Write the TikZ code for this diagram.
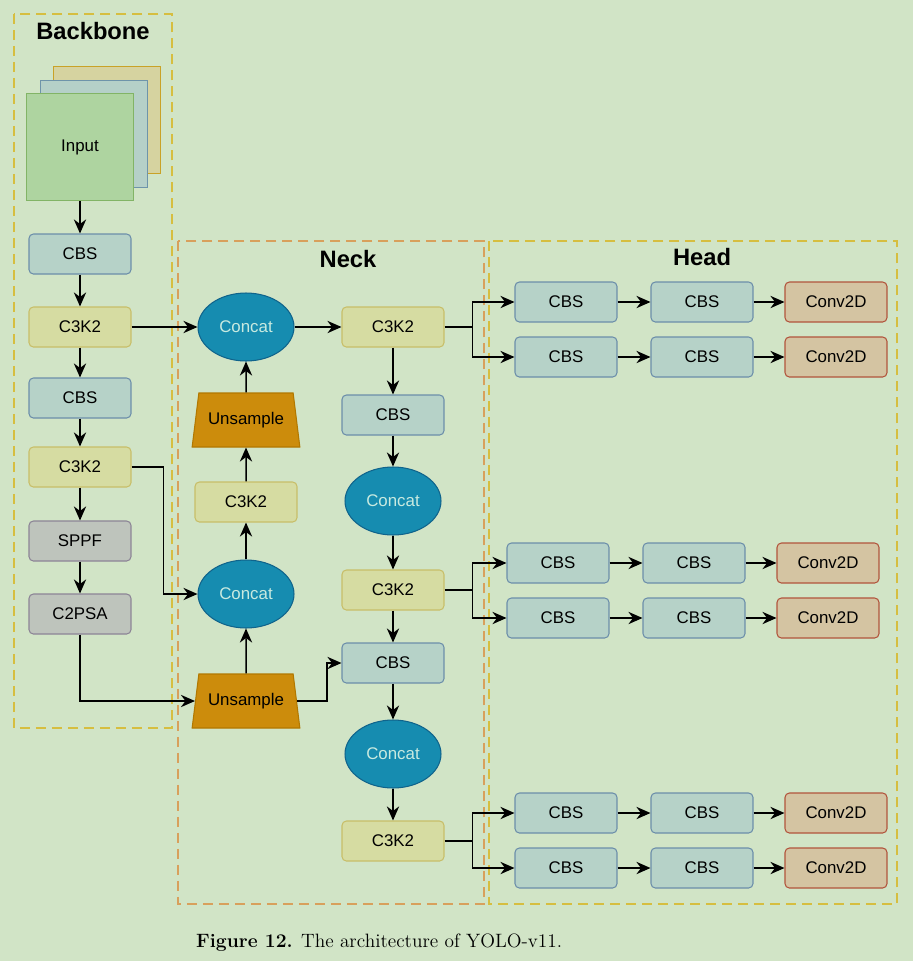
\documentclass[tikz,border=0pt]{standalone}
\usepackage{fontspec}
\setsansfont{Liberation Sans}
\usetikzlibrary{
  arrows.meta,
  shapes.geometric
}
\definecolor{bgpaper}{RGB}{209,228,198}
\definecolor{bbline}{RGB}{214,190,64}
\definecolor{neckline}{RGB}{216,160,92}
\definecolor{cbsfill}{RGB}{182,210,200}
\definecolor{cbsline}{RGB}{108,142,170}
\definecolor{c3fill}{RGB}{214,220,162}
\definecolor{c3line}{RGB}{200,190,104}
\definecolor{poolfill}{RGB}{190,196,188}
\definecolor{poolline}{RGB}{140,132,150}
\definecolor{convfill}{RGB}{212,196,162}
\definecolor{convline}{RGB}{178,84,60}
\definecolor{catfill}{RGB}{22,140,176}
\definecolor{catline}{RGB}{16,100,140}
\definecolor{cattext}{RGB}{200,234,224}
\definecolor{upfill}{RGB}{204,140,12}
\definecolor{upline}{RGB}{178,120,0}
\definecolor{infront}{RGB}{174,212,160}
\definecolor{infrontline}{RGB}{130,180,102}
\definecolor{inmid}{RGB}{181,208,200}
\definecolor{inmidline}{RGB}{110,148,170}
\definecolor{inback}{RGB}{214,211,160}
\definecolor{inbackline}{RGB}{201,162,39}

\begin{document}
\begin{tikzpicture}[
  x=0.02cm, y=-0.02cm,
  every node/.style={font=\sffamily\fontsize{9.6}{11}\selectfont},
  blockbox/.style={rounded corners=2.5pt, minimum width=2.04cm,
                minimum height=0.8cm, inner sep=0pt, line width=0.6pt},
  cbsbox/.style={blockbox, draw=cbsline, fill=cbsfill},
  c3box/.style={blockbox, draw=c3line, fill=c3fill},
  poolbox/.style={blockbox, draw=poolline, fill=poolfill},
  convbox/.style={blockbox, draw=convline, fill=convfill},
  concatnode/.style={ellipse, draw=catline, fill=catfill, text=cattext,
                minimum width=1.92cm, minimum height=1.36cm, inner sep=0pt, line width=0.6pt},
  upnode/.style={trapezium, trapezium stretches=true, trapezium left angle=71,
                trapezium right angle=71, minimum width=2.16cm, minimum height=1.08cm,
                draw=upline, fill=upfill, inner sep=0pt, line width=0.6pt},
  inputsheet/.style={minimum width=2.14cm, minimum height=2.14cm, inner sep=0pt, line width=0.7pt},
  groupbox/.style={dash pattern=on 0.2cm off 0.12cm, line width=1.2pt},
  titletext/.style={font=\sffamily\bfseries\fontsize{13.5}{15}\selectfont},
  link/.style={->, line width=0.85pt},
  >={Stealth[length=8pt, width=7pt]}
]

\fill[bgpaper] (0,0) rectangle (913,961);
\useasboundingbox (0,0) rectangle (913,961);

% group frames
\draw[groupbox, draw=bbline] (14,14) rectangle (172,728);
\draw[groupbox, draw=neckline] (178,241) rectangle (484,904);
\draw[groupbox, draw=bbline] (489,241) rectangle (897,904);
\node[titletext] (bbtitle) at (93,31) {Backbone};
\node[titletext] (necktitle) at (348,259) {Neck};
\node[titletext] (headtitle) at (702,257) {Head};

% backbone
\node[inputsheet, draw=inbackline, fill=inback] (insheetb) at (107,120) {};
\node[inputsheet, draw=inmidline, fill=inmid] (insheetm) at (94,134) {};
\node[inputsheet, draw=infrontline, fill=infront] (input) at (80,147) {Input};
\node[cbsbox] (bbcbs1) at (80,254) {CBS};
\node[c3box] (bbc3a) at (80,327) {C3K2};
\node[cbsbox] (bbcbs2) at (80,398) {CBS};
\node[c3box] (bbc3b) at (80,467) {C3K2};
\node[poolbox] (sppf) at (80,541) {SPPF};
\node[poolbox] (c2psa) at (80,614) {C2PSA};

% neck
\node[concatnode] (cat1) at (246,327) {Concat};
\node[upnode] (up1) at (246,420) {Unsample};
\node[c3box] (nc3up) at (246,502) {C3K2};
\node[concatnode] (cat2) at (246,594) {Concat};
\node[upnode] (up2) at (246,701) {Unsample};
\node[c3box] (nc3a) at (393,327) {C3K2};
\node[cbsbox] (ncbs1) at (393,415) {CBS};
\node[concatnode] (cat3) at (393,501) {Concat};
\node[c3box] (nc3b) at (393,590) {C3K2};
\node[cbsbox] (ncbs2) at (393,663) {CBS};
\node[concatnode] (cat4) at (393,754) {Concat};
\node[c3box] (nc3c) at (393,841) {C3K2};

% head
\node[cbsbox] (h1a) at (566,302) {CBS};
\node[cbsbox] (h1b) at (702,302) {CBS};
\node[convbox] (h1c) at (836,302) {Conv2D};
\node[cbsbox] (h2a) at (566,357) {CBS};
\node[cbsbox] (h2b) at (702,357) {CBS};
\node[convbox] (h2c) at (836,357) {Conv2D};
\node[cbsbox] (h3a) at (558,563) {CBS};
\node[cbsbox] (h3b) at (694,563) {CBS};
\node[convbox] (h3c) at (828,563) {Conv2D};
\node[cbsbox] (h4a) at (558,618) {CBS};
\node[cbsbox] (h4b) at (694,618) {CBS};
\node[convbox] (h4c) at (828,618) {Conv2D};
\node[cbsbox] (h5a) at (566,813) {CBS};
\node[cbsbox] (h5b) at (702,813) {CBS};
\node[convbox] (h5c) at (836,813) {Conv2D};
\node[cbsbox] (h6a) at (566,868) {CBS};
\node[cbsbox] (h6b) at (702,868) {CBS};
\node[convbox] (h6c) at (836,868) {Conv2D};

% backbone links
\draw[link] (input) -- (bbcbs1);
\draw[link] (bbcbs1) -- (bbc3a);
\draw[link] (bbc3a) -- (bbcbs2);
\draw[link] (bbcbs2) -- (bbc3b);
\draw[link] (bbc3b) -- (sppf);
\draw[link] (sppf) -- (c2psa);

% neck links
\draw[link] (bbc3a) -- (cat1);
\draw[link] (bbc3b.east) -- ++(32,0) |- (cat2.west);
\draw[link] (c2psa.south) |- (up2.west);
\draw[link] (up2) -- (cat2);
\draw[link] (cat2) -- (nc3up);
\draw[link] (nc3up) -- (up1);
\draw[link] (up1) -- (cat1);
\draw[link] (cat1) -- (nc3a);
\draw[link] (nc3a) -- (ncbs1);
\draw[link] (ncbs1) -- (cat3);
\draw[link] (cat3) -- (nc3b);
\draw[link] (nc3b) -- (ncbs2);
\draw[link] (up2.east) -- ++(30,0) |- (ncbs2.west);
\draw[link] (ncbs2) -- (cat4);
\draw[link] (cat4) -- (nc3c);

% head forks
\draw[line width=0.85pt] (nc3a.east) -- ++(28,0) coordinate (fork1);
\draw[link] (fork1) |- (h1a.west);
\draw[link] (fork1) |- (h2a.west);
\draw[line width=0.85pt] (nc3b.east) -- ++(28,0) coordinate (fork2);
\draw[link] (fork2) |- (h3a.west);
\draw[link] (fork2) |- (h4a.west);
\draw[line width=0.85pt] (nc3c.east) -- ++(28,0) coordinate (fork3);
\draw[link] (fork3) |- (h5a.west);
\draw[link] (fork3) |- (h6a.west);

% head rows
\foreach \r in {1,...,6}{
  \draw[link] (h\r a) -- (h\r b);
  \draw[link] (h\r b) -- (h\r c);
}

\node[anchor=west, font=\rmfamily\fontsize{11}{13}\selectfont] (caption) at (190,943)
  {\textbf{Figure 12.} The architecture of YOLO-v11.};

\end{tikzpicture}
\end{document}
